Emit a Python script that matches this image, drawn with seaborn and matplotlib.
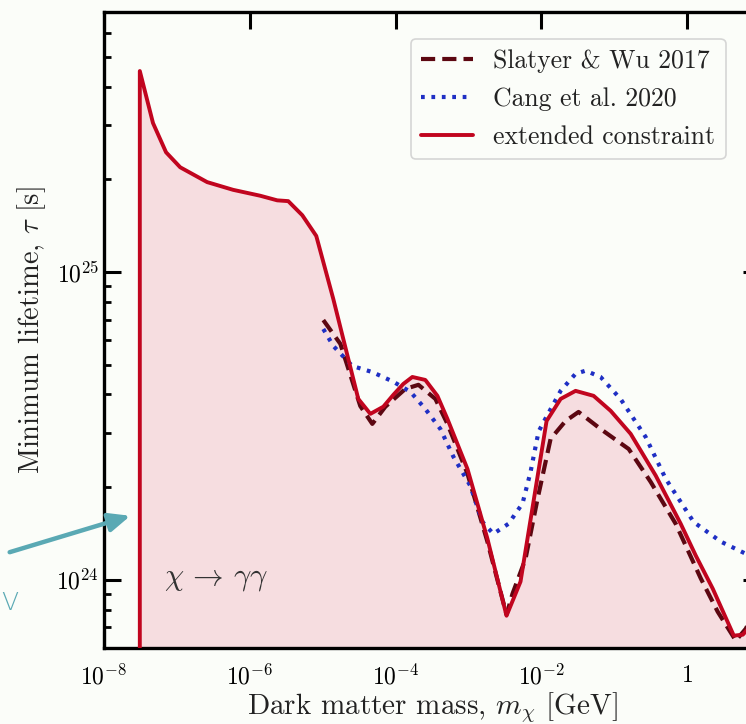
import numpy as np
import pandas as pd
import matplotlib
matplotlib.use("Agg")
import matplotlib.pyplot as plt
import seaborn as sns

# Extended constraint (solid red), mass in GeV, lifetime in s
ext_mass = [3.1e-8, 3.1e-8, 4.7e-8, 7.1e-8, 1.11e-7, 2.6e-7, 5.9e-7, 1.39e-6, 2.38e-6,
            3.37e-6, 5.25e-6, 8.17e-6, 1.40e-5, 3.08e-5, 4.51e-5, 6.79e-5, 9.33e-5,
            1.28e-4, 1.70e-4, 2.56e-4, 3.75e-4, 5.15e-4, 9.7e-4, 1.82e-3, 3.33e-3,
            5.18e-3, 1.18e-2, 1.84e-2, 2.95e-2, 5.21e-2, 8.93e-2, 0.168, 0.371, 0.817,
            1.31, 2.25, 4.37, 5.81, 7.96, 10.3]
ext_tau = [1e23, 4.5e25, 3.05e25, 2.45e25, 2.19e25, 1.96e25, 1.85e25, 1.77e25, 1.71e25,
           1.70e25, 1.53e25, 1.31e25, 8.17e24, 3.87e24, 3.46e24, 3.65e24, 3.99e24,
           4.33e24, 4.56e24, 4.46e24, 3.96e24, 3.33e24, 2.29e24, 1.36e24, 7.64e23,
           9.86e23, 3.28e24, 3.87e24, 4.11e24, 3.96e24, 3.54e24, 2.98e24, 2.18e24,
           1.52e24, 1.20e24, 9.35e23, 6.58e23, 6.63e23, 7.2e23, 8.05e23]

# Slatyer & Wu 2017 (dashed)
sw_mass = [1.02e-5, 1.75e-5, 3.28e-5, 4.80e-5, 7.24e-5, 1.36e-4, 2.06e-4, 3.52e-4,
           5.15e-4, 9.7e-4, 1.82e-3, 3.33e-3, 4.02e-3, 6.07e-3, 8.87e-3, 1.34e-2,
           2.15e-2, 3.24e-2, 6.50e-2, 0.158, 0.316, 0.697, 1.54, 2.63, 4.66, 6.38, 10.3]
sw_tau = [6.98e24, 5.84e24, 3.67e24, 3.21e24, 3.65e24, 4.17e24, 4.30e24, 3.87e24,
          3.21e24, 2.21e24, 1.33e24, 7.7e23, 9.0e23, 1.17e24, 1.83e24, 2.87e24,
          3.28e24, 3.51e24, 3.09e24, 2.66e24, 2.08e24, 1.52e24, 1.01e24, 7.87e23,
          6.34e23, 6.93e23, 8.7e23]

# Cang et al. 2020 (dotted)
cang_mass = [1.02e-5, 1.40e-5, 2.55e-5, 4.80e-5, 9.33e-5, 1.60e-4, 2.56e-4, 4.12e-4,
             6.22e-4, 1.06e-3, 1.56e-3, 2.20e-3, 3.54e-3, 5.52e-3, 7.11e-3, 9.16e-3,
             1.14e-2, 1.84e-2, 2.95e-2, 4.05e-2, 6.50e-2, 0.122, 0.270, 0.508, 1.23,
             2.90, 6.59, 10.3]
cang_tau = [6.53e24, 5.75e24, 4.95e24, 4.73e24, 4.40e24, 4.08e24, 3.59e24, 3.09e24,
            2.51e24, 2.02e24, 1.54e24, 1.41e24, 1.52e24, 1.77e24, 2.24e24, 3.03e24,
            3.34e24, 4.11e24, 4.67e24, 4.78e24, 4.56e24, 3.87e24, 2.91e24, 2.13e24,
            1.54e24, 1.33e24, 1.21e24, 1.17e24]

x_ticks = [1e-8, 1e-6, 1e-4, 1e-2, 1]
x_labels = [r"$10^{-8}$", r"$10^{-6}$", r"$10^{-4}$", r"$10^{-2}$", r"$1$"]
y_ticks = [1e24, 1e25]
y_labels = [r"$10^{24}$", r"$10^{25}$"]

sns.set_style("ticks")
plt.rcParams.update({
    "font.family": ["cmr10", "DejaVu Serif"],
    "mathtext.fontset": "cm",
    "axes.unicode_minus": False,
    "axes.formatter.use_mathtext": True,
})

bg = "#fbfdf9"
c_ext = "#c1051f"
c_sw = "#5c0711"
c_cang = "#1f2fc4"
c_fill = "#f6dde0"

fig = plt.figure(figsize=(7.46, 7.24), dpi=100, facecolor=bg)
ax = fig.add_axes([104 / 746, 76 / 724, 656 / 746, 636 / 724])
ax.set_facecolor(bg)
ax.set_xscale("log")
ax.set_yscale("log")

ylo, yhi = 6e23, 7e25
ext = pd.DataFrame({"mass": ext_mass, "tau": ext_tau})
sw = pd.DataFrame({"mass": sw_mass, "tau": sw_tau})
cang = pd.DataFrame({"mass": cang_mass, "tau": cang_tau})

ax.fill_between(ext["mass"], ylo * 0.5, ext["tau"], color=c_fill, lw=0, zorder=1)
sns.lineplot(data=sw, x="mass", y="tau", ax=ax, sort=False, estimator=None,
             color=c_sw, lw=3, label="Slatyer & Wu 2017", zorder=3)
ax.lines[-1].set_dashes([3.4, 1.7])
sns.lineplot(data=cang, x="mass", y="tau", ax=ax, sort=False, estimator=None,
             color=c_cang, lw=3, label="Cang et al. 2020", zorder=3)
ax.lines[-1].set_linestyle((0, (0.9, 1.6)))
sns.lineplot(data=ext, x="mass", y="tau", ax=ax, sort=False, estimator=None,
             color=c_ext, lw=2.8, label="extended constraint", zorder=4)

ax.set_xlim(1e-8, 10)
ax.set_ylim(ylo, yhi)
ax.set_xticks(x_ticks)
ax.set_xticklabels(x_labels)
ax.xaxis.set_minor_locator(matplotlib.ticker.NullLocator())
ax.set_yticks(y_ticks)
ax.set_yticklabels(y_labels)
ax.yaxis.set_minor_locator(matplotlib.ticker.LogLocator(base=10, subs=np.arange(2, 10)))
ax.yaxis.set_minor_formatter(matplotlib.ticker.NullFormatter())

ax.tick_params(which="both", direction="in", top=True, right=True, colors="black",
               labelsize=17)
ax.tick_params(axis="x", which="major", pad=12)
ax.tick_params(axis="y", which="major", pad=3.5)
ax.tick_params(which="major", length=12, width=2.2)
ax.tick_params(which="minor", length=5, width=2.0)
for s in ax.spines.values():
    s.set_linewidth(2.4)
    s.set_color("black")

ax.set_xlabel(r"Dark matter mass, $m_\chi$ [GeV]", fontsize=21, color="#222222", labelpad=0)
ax.set_ylabel(r"Minimum lifetime, $\tau$ [s]", fontsize=20.5, color="#222222", labelpad=6)

ax.text(6.7e-8, 1.0e24, r"$\chi \,\rightarrow\, \gamma\gamma$", fontsize=22,
        color="#333333", ha="left", va="center", zorder=5)

leg = ax.legend(loc="upper left", bbox_to_anchor=(0.468, 0.9575), fontsize=18.5,
                frameon=True, fancybox=True, handlelength=2.0, handletextpad=0.8,
                labelspacing=0.55, borderpad=0.4, borderaxespad=0)
leg.get_frame().set_edgecolor("#cccccc")
leg.get_frame().set_facecolor(bg)
leg.get_frame().set_linewidth(1.2)
for t in leg.get_texts():
    t.set_color("#222222")

# Teal pointer on the left edge of the excluded region
fig.patches.append(matplotlib.patches.FancyArrowPatch(
    (7 / 746, 1 - 553 / 724), (133 / 746, 1 - 515 / 724), transform=fig.transFigure,
    arrowstyle="-|>,head_length=8,head_width=3.5", color="#5aa9b4", lw=3.2,
    mutation_scale=1.6, figure=fig))
fig.text(0.001, 1 - 603 / 724, "V", fontsize=18, color="#5aa9b4",
         family="DejaVu Sans", ha="left", va="center", fontweight="light")

fig.savefig("out.png", dpi=100, facecolor=bg)
